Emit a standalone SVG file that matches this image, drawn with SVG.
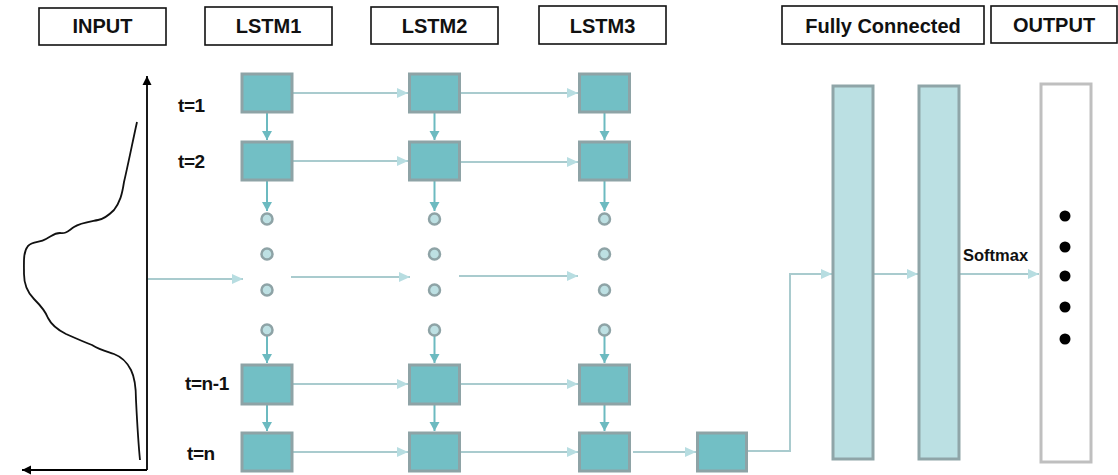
<svg xmlns="http://www.w3.org/2000/svg" width="1118" height="475" viewBox="0 0 1118 475">
<defs>
<style>
.hdr{fill:#fff;stroke:#111;stroke-width:1.6}
.ht{font-family:"Liberation Sans",Arial,sans-serif;font-weight:bold;font-size:20px;fill:#111;text-anchor:middle}
.tl{font-family:"Liberation Sans",Arial,sans-serif;font-weight:bold;font-size:19px;fill:#111;letter-spacing:-0.4px}
.cell{fill:#72BFC5;stroke:#8EA3A6;stroke-width:3}
.fc{fill:#BBE0E3;stroke:#8FA5A8;stroke-width:3}
.dot{fill:#BDE0E3;stroke:#8EA3A6;stroke-width:2.5}
.h{stroke:#A9CBCE;stroke-width:2;fill:none;marker-end:url(#ah)}
.v{stroke:#6CBAC0;stroke-width:2;fill:none;marker-end:url(#av)}
.ax{stroke:#000;stroke-width:1.8;fill:none;marker-end:url(#ak)}
</style>
<marker id="ah" markerUnits="userSpaceOnUse" markerWidth="12" markerHeight="12" refX="11" refY="6" orient="auto"><path d="M0,1 L11,6 L0,11 z" fill="#B7DDE1"/></marker>
<marker id="av" markerUnits="userSpaceOnUse" markerWidth="12" markerHeight="12" refX="9" refY="6" orient="auto"><path d="M0,1 L9,6 L0,11 z" fill="#6CBAC0"/></marker>
<marker id="ak" markerUnits="userSpaceOnUse" markerWidth="12" markerHeight="12" refX="9" refY="6" orient="auto"><path d="M0,1.5 L9,6 L0,10.5 z" fill="#000"/></marker>
</defs>
<rect width="1118" height="475" fill="#fff"/>

<g id="headers">
<g id="h-input"><rect class="hdr" x="39" y="8" width="127" height="37"/><text class="ht" x="102.5" y="33">INPUT</text></g>
<g id="h-lstm1"><rect class="hdr" x="205" y="7" width="127" height="38"/><text class="ht" x="268.5" y="33">LSTM1</text></g>
<g id="h-lstm2"><rect class="hdr" x="371" y="7" width="127" height="37"/><text class="ht" x="434.5" y="33">LSTM2</text></g>
<g id="h-lstm3"><rect class="hdr" x="539" y="6" width="127" height="38"/><text class="ht" x="602.5" y="33">LSTM3</text></g>
<g id="h-fc"><rect class="hdr" x="782" y="6" width="202" height="38"/><text class="ht" x="883" y="33">Fully Connected</text></g>
<g id="h-output"><rect class="hdr" x="991" y="6" width="126" height="37"/><text class="ht" x="1054" y="32">OUTPUT</text></g>
</g>

<g id="input-signal">
<path class="ax" d="M147,470 L147,76"/>
<path class="ax" d="M147,470 L22,470"/>
<path d="M137,122 C133,140 128,165 124,182 C122,195 120,202 114,210 C108,216 104,219 98,220 C88,222 80,223 74,227 C68,231 66,234 60,233 C54,233 52,236 46,239 C40,243 33,241 28,246 C23,252 24,262 24,274 C24,286 28,293 34,299 C40,305 45,310 48,318 C52,326 58,330 66,334 C75,338 84,342 92,345 C100,350 105,351 114,354 C122,357 127,362 131,370 C135,378 136,388 136,400 C137,420 138,440 140,460" fill="none" stroke="#111" stroke-width="1.8"/>
</g>

<g id="time-labels">
<text class="tl" x="178" y="112">t=1</text>
<text class="tl" x="178" y="168">t=2</text>
<text class="tl" x="185" y="390">t=n-1</text>
<text class="tl" x="187" y="460">t=n</text>
</g>

<g id="connectors">
<path class="v" d="M267,113 V140"/><path class="v" d="M434.5,113 V140"/><path class="v" d="M604.5,113 V140"/>
<path class="v" d="M267,181 V211"/><path class="v" d="M434.5,181 V211"/><path class="v" d="M604.5,181 V211"/>
<path class="v" d="M267,336 V363"/><path class="v" d="M434.5,336 V363"/><path class="v" d="M604.5,336 V363"/>
<path class="v" d="M267,405 V431"/><path class="v" d="M434.5,405 V431"/><path class="v" d="M604.5,405 V431"/>
<path class="h" d="M293,93 H408"/><path class="h" d="M461,93 H578"/>
<path class="h" d="M293,161 H408"/><path class="h" d="M461,162 H578"/>
<path class="h" d="M148,279 H243"/><path class="h" d="M291,277 H410"/><path class="h" d="M459,276 H578"/>
<path class="h" d="M293,384 H408"/><path class="h" d="M461,384 H578"/>
<path class="h" d="M293,452 H408"/><path class="h" d="M461,452 H578"/><path class="h" d="M633,452 H696"/>
<path class="h" d="M748,451 H790 V274 H832"/>
<path class="h" d="M874,274 H918"/>
<path class="h" d="M960,274 H1039"/>
</g>

<g id="lstm1">
<rect class="cell" x="242" y="74" width="50" height="38"/>
<rect class="cell" x="242" y="142" width="50" height="38"/>
<circle class="dot" cx="267" cy="219" r="5.5"/><circle class="dot" cx="267" cy="254" r="5.5"/><circle class="dot" cx="267" cy="290" r="5.5"/><circle class="dot" cx="267" cy="330" r="5.5"/>
<rect class="cell" x="242" y="365" width="50" height="39"/>
<rect class="cell" x="242" y="433" width="50" height="38"/>
</g>
<g id="lstm2">
<rect class="cell" x="409.5" y="74" width="50" height="38"/>
<rect class="cell" x="409.5" y="142" width="50" height="38"/>
<circle class="dot" cx="434.5" cy="219" r="5.5"/><circle class="dot" cx="434.5" cy="254" r="5.5"/><circle class="dot" cx="434.5" cy="290" r="5.5"/><circle class="dot" cx="434.5" cy="330" r="5.5"/>
<rect class="cell" x="409.5" y="365" width="50" height="39"/>
<rect class="cell" x="409.5" y="433" width="50" height="38"/>
</g>
<g id="lstm3">
<rect class="cell" x="579.5" y="74" width="50" height="38"/>
<rect class="cell" x="579.5" y="142" width="50" height="38"/>
<circle class="dot" cx="604.5" cy="219" r="5.5"/><circle class="dot" cx="604.5" cy="254" r="5.5"/><circle class="dot" cx="604.5" cy="290" r="5.5"/><circle class="dot" cx="604.5" cy="330" r="5.5"/>
<rect class="cell" x="579.5" y="365" width="50" height="39"/>
<rect class="cell" x="579.5" y="433" width="50" height="38"/>
</g>
<g id="last-cell"><rect class="cell" x="697.5" y="433" width="49" height="38"/></g>

<g id="fc1"><rect class="fc" x="833" y="86" width="40" height="373"/></g>
<g id="fc2"><rect class="fc" x="919" y="86" width="40" height="373"/></g>
<text x="963" y="261" font-family="Liberation Sans, Arial, sans-serif" font-weight="bold" font-size="16.5" fill="#111">Softmax</text>

<g id="output">
<rect x="1041" y="84" width="50" height="378" fill="#fff" stroke="#BFBFBF" stroke-width="3"/>
<circle cx="1065" cy="216" r="5.5" fill="#000"/>
<circle cx="1065" cy="247" r="5.5" fill="#000"/>
<circle cx="1065" cy="276" r="5.5" fill="#000"/>
<circle cx="1065" cy="307" r="5.5" fill="#000"/>
<circle cx="1065" cy="339" r="5.5" fill="#000"/>
</g>
</svg>
